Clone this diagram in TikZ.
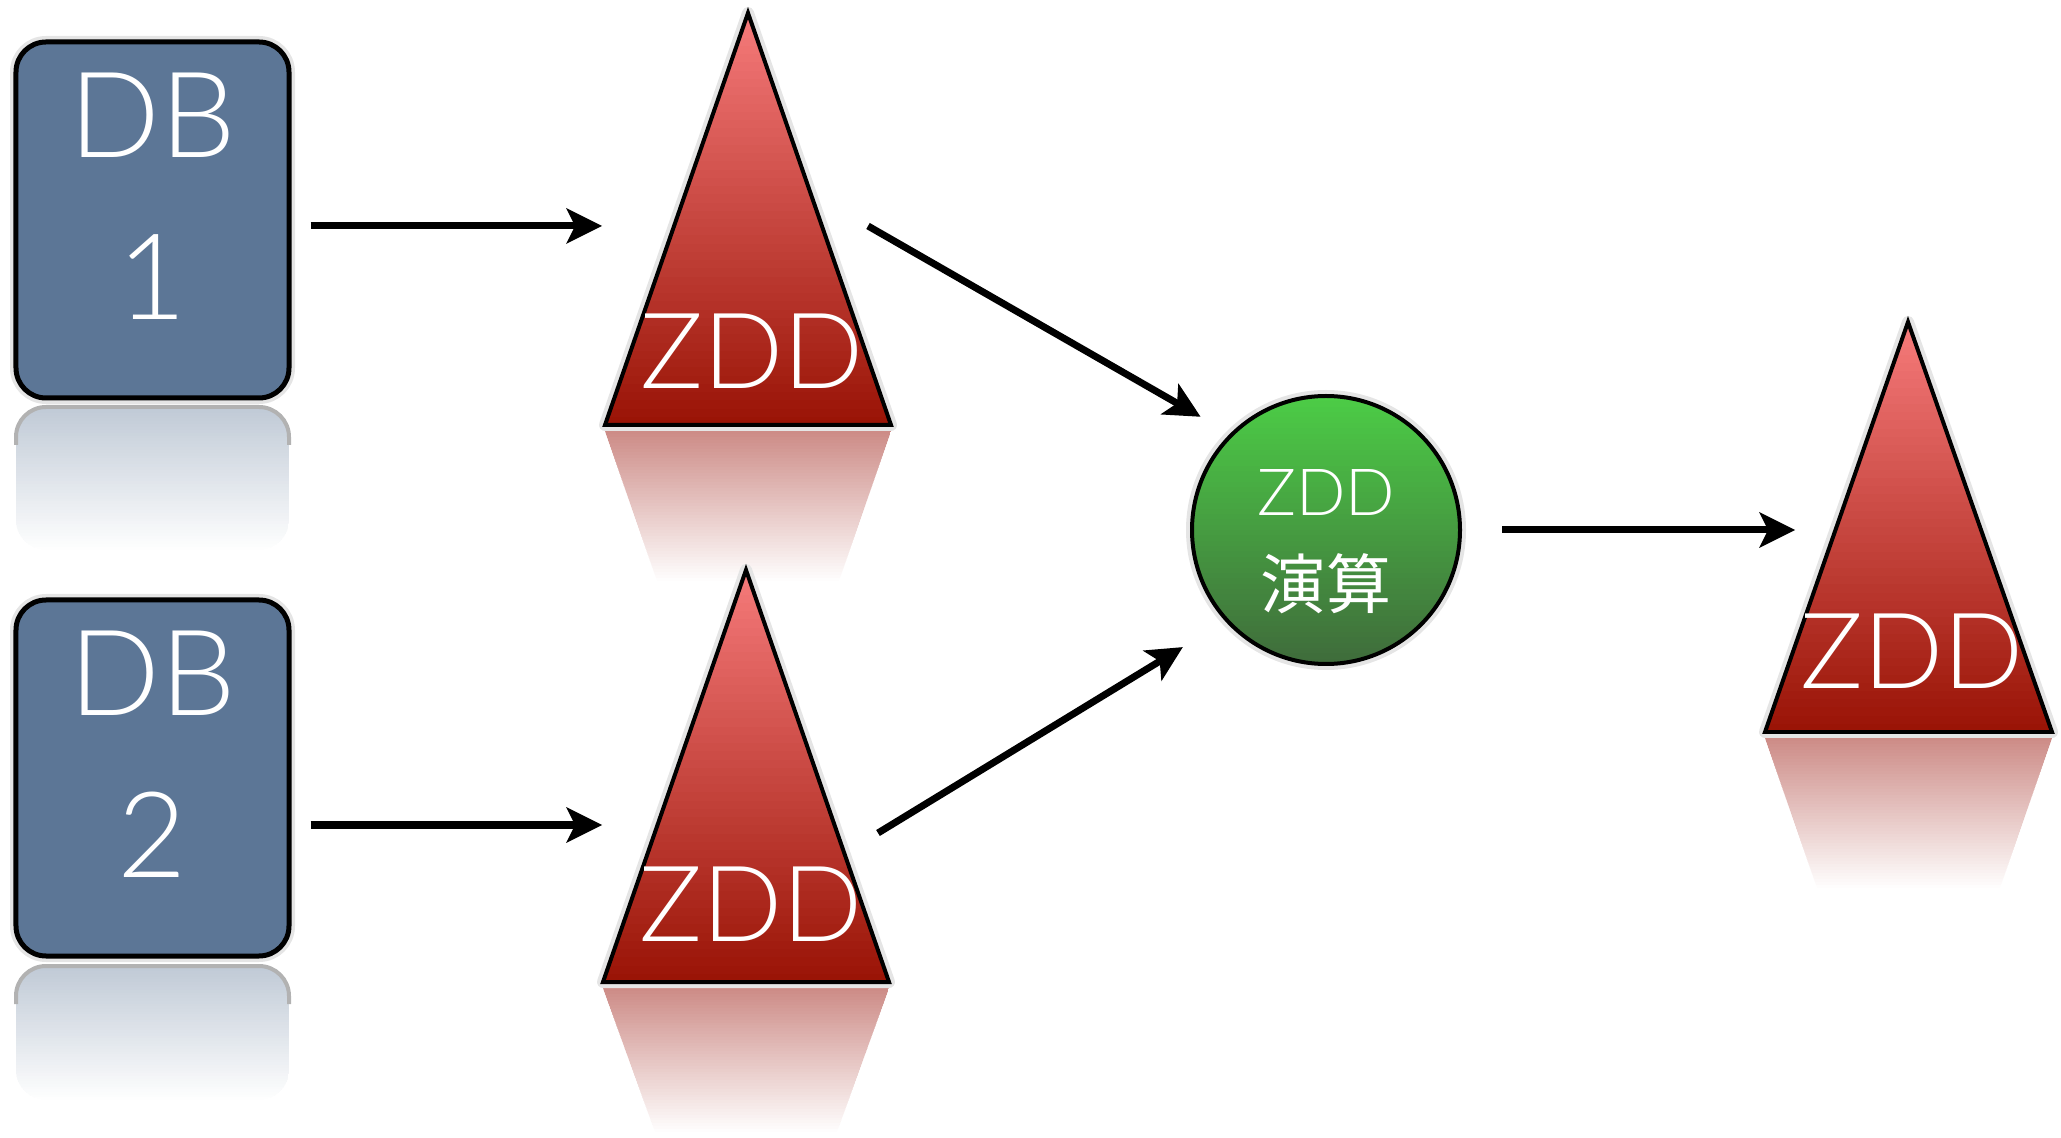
\documentclass[tikz,border=0pt]{standalone}
\usepackage{fontspec}
\setmainfont{Lato}[UprightFont={* Light}]
\newfontfamily\cjk{Noto Sans CJK JP}
\usetikzlibrary{calc,decorations.markings}
\definecolor{DBBlue}{RGB}{92,118,150}
\definecolor{DBRefl}{RGB}{192,202,214}
\definecolor{TriTop}{RGB}{245,122,122}
\definecolor{TriBot}{RGB}{152,18,4}
\definecolor{TriRefl}{RGB}{205,140,135}
\definecolor{OpTop}{RGB}{76,204,70}
\definecolor{OpBot}{RGB}{63,106,59}
% vertical gradient in strips: top colour, bottom colour, top-left x,y, bottom-right x,y
\newcommand{\vgrad}[6]{%
 \foreach \i in {0,...,49}{%
  \pgfmathsetmacro\p{100-2*\i}%
  \pgfmathsetmacro\ya{#4+(#6-#4)*\i/50}%
  \pgfmathsetmacro\yb{#4+(#6-#4)*(\i+1.4)/50}%
  \fill[#1!\p!#2] (#3,\ya) rectangle (#5,\yb);}}
\tikzset{
 dbbox/.style={draw=black, line width=0.05cm, rounded corners=0.3cm, fill=DBBlue, minimum width=2.73cm, minimum height=3.56cm, align=center, text=white, font=\fontsize{34}{46}\selectfont, text depth=0.48cm},
 dbrefl/.style={rounded corners=0.3cm},
 halo/.style={draw=black!10, line width=0.12cm, line join=round},
 tri/.style={draw=black, line width=0.04cm, line join=miter},
 zddlabel/.style={text=white, font=\fontsize{30}{36}\selectfont, inner sep=0pt},
 opnode/.style={circle, draw=black, line width=0.04cm, minimum size=2.68cm, align=center, text=white, font=\fontsize{18.5}{26.5}\selectfont, text height=1.62cm},
 arrow/.style={line width=0.07cm, shorten >=0.2cm, postaction={decorate}, decoration={markings, mark=at position 1 with {\fill (0,0) -- (-0.36,0.18) -- (-0.27,0) -- (-0.36,-0.18) -- cycle;}}}
}
\begin{document}
\begin{tikzpicture}
\useasboundingbox (0,0) rectangle (20.61,-11.38);
% reflections
\begin{scope}\clip[dbrefl] (0.16,-5.5) |- (2.89,-4.07) -- (2.89,-5.5) -- cycle;\vgrad{DBRefl}{white}{0.16}{-4.07}{2.89}{-5.5}\end{scope}
\begin{scope}\clip[dbrefl] (0.16,-11.0) |- (2.89,-9.66) -- (2.89,-11.0) -- cycle;\vgrad{DBRefl}{white}{0.16}{-9.66}{2.89}{-11.0}\end{scope}
\draw[dbrefl, black!30, line width=0.04cm] (0.16,-4.45) |- (2.89,-4.07) -- (2.89,-4.45);
\draw[dbrefl, black!30, line width=0.04cm] (0.16,-10.04) |- (2.89,-9.66) -- (2.89,-10.04);
\begin{scope}\clip (6.05,-4.31) -- (8.91,-4.31) -- (8.39,-5.81) -- (6.57,-5.81) -- cycle;\vgrad{TriRefl}{white}{6.05}{-4.31}{8.91}{-5.81}\end{scope}
\begin{scope}\clip (6.03,-9.88) -- (8.89,-9.88) -- (8.37,-11.32) -- (6.55,-11.32) -- cycle;\vgrad{TriRefl}{white}{6.03}{-9.88}{8.89}{-11.32}\end{scope}
\begin{scope}\clip (17.65,-7.38) -- (20.52,-7.38) -- (20.00,-8.88) -- (18.17,-8.88) -- cycle;\vgrad{TriRefl}{white}{17.65}{-7.38}{20.52}{-8.88}\end{scope}
% databases
\draw[halo, rounded corners=0.3cm] (0.16,-0.42) rectangle (2.89,-3.98);
\draw[halo, rounded corners=0.3cm] (0.16,-6.0) rectangle (2.89,-9.56);
\node[dbbox] (db1) at (1.525,-2.20) {DB\\1};
\node[dbbox] (db2) at (1.525,-7.78) {DB\\2};
% zdd triangles
\draw[halo] (7.48,-0.13) -- (8.91,-4.25) -- (6.05,-4.25) -- cycle;
\draw[halo] (7.46,-5.70) -- (8.89,-9.82) -- (6.03,-9.82) -- cycle;
\draw[halo] (19.08,-3.22) -- (20.52,-7.32) -- (17.65,-7.32) -- cycle;
\begin{scope}\clip (7.48,-0.13) -- (8.91,-4.25) -- (6.05,-4.25) -- cycle;\vgrad{TriTop}{TriBot}{6.05}{-0.13}{8.91}{-4.25}\end{scope}
\begin{scope}\clip (7.46,-5.70) -- (8.89,-9.82) -- (6.03,-9.82) -- cycle;\vgrad{TriTop}{TriBot}{6.03}{-5.70}{8.89}{-9.82}\end{scope}
\begin{scope}\clip (19.08,-3.22) -- (20.52,-7.32) -- (17.65,-7.32) -- cycle;\vgrad{TriTop}{TriBot}{17.65}{-3.22}{20.52}{-7.32}\end{scope}
\draw[tri] (7.48,-0.13) -- (8.91,-4.25) -- (6.05,-4.25) -- cycle;
\draw[tri] (7.46,-5.70) -- (8.89,-9.82) -- (6.03,-9.82) -- cycle;
\draw[tri] (19.08,-3.22) -- (20.52,-7.32) -- (17.65,-7.32) -- cycle;
\node[zddlabel] (z1) at (7.52,-3.51) {ZDD};
\node[zddlabel] (z2) at (7.51,-9.04) {ZDD};
\node[zddlabel] (z3) at (19.12,-6.51) {ZDD};
\coordinate (t1w) at (6.02,-2.26);\coordinate (t1e) at (8.68,-2.26);
\coordinate (t2w) at (6.02,-8.25);\coordinate (t2e) at (8.78,-8.33);
\coordinate (t3w) at (17.95,-5.30);
% operation
\draw[halo] (13.26,-5.30) circle (1.34);
\begin{scope}\clip (13.26,-5.30) circle (1.34);\vgrad{OpTop}{OpBot}{11.9}{-3.96}{14.62}{-6.64}\end{scope}
\node[opnode] (op) at (13.26,-5.30) {ZDD\\{\cjk 演算}};
\coordinate (op1) at (12.01,-4.17);\coordinate (op2) at (11.83,-6.47);
\draw[arrow] ($(db1.east |- t1w)+(0.19,0)$) -- (t1w);\draw[arrow] ($(db2.east |- t2w)+(0.19,0)$) -- (t2w);
\draw[arrow] (t1e) -- (op1);\draw[arrow] (t2e) -- (op2);
\draw[arrow] ($(op.east)+(0.4,0)$) -- (t3w);
\end{tikzpicture}
\end{document}
